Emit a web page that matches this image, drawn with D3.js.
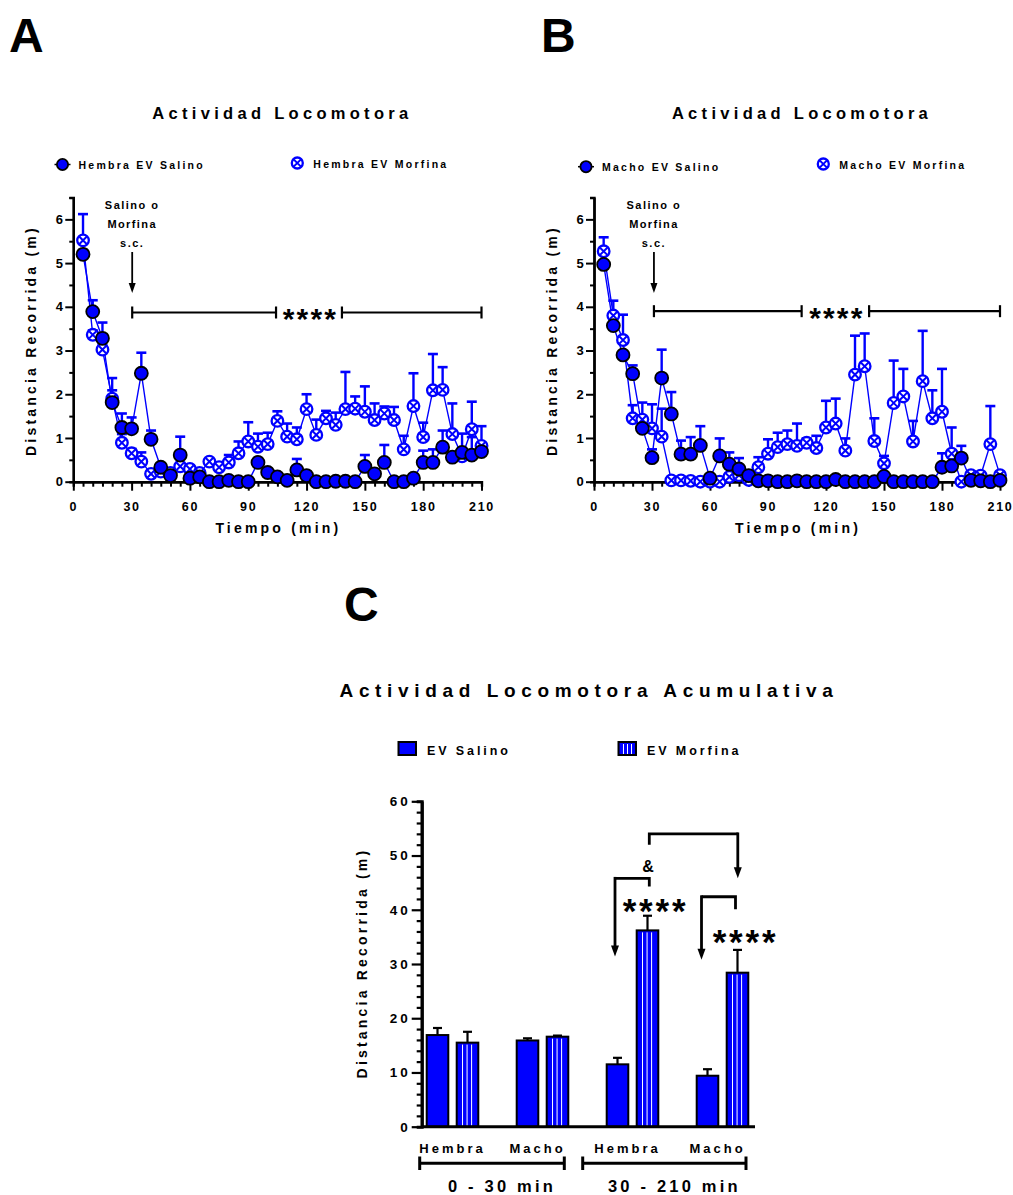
<!DOCTYPE html>
<html>
<head>
<meta charset="utf-8">
<script src="https://cdn.jsdelivr.net/npm/d3@7"></script>
<style>
  body { margin: 0; background: #fff; }
  text { font-family: "Liberation Sans", Arial, sans-serif; font-weight: bold; fill: #000; }
</style>
</head>
<body>
<svg id="chart" width="1013" height="1195"></svg>
<script>
var azul = "#0000ff"

// --- paneles A y B: actividad cada 5 min ---
var tiempo = [5, 10, 15, 20, 25, 30, 35, 40, 45, 50, 55, 60, 65, 70, 75, 80, 85, 90, 95, 100, 105,
              110, 115, 120, 125, 130, 135, 140, 145, 150, 155, 160, 165, 170, 175, 180, 185, 190, 195, 200, 205, 210]
var tiempoTicks = [0, 30, 60, 90, 120, 150, 180, 210]
var distTicks = [0, 1, 2, 3, 4, 5, 6]

var hembraSalino = [5.2, 3.89, 3.28, 1.81, 1.24, 1.21, 2.48, 0.97, 0.33, 0.14, 0.61, 0.08, 0.11, 0, 0, 0.03, 0, 0, 0.44, 0.21, 0.11,
                    0.03, 0.27, 0.14, 0, 0, 0.01, 0.01, 0, 0.35, 0.18, 0.44, 0, 0, 0.08, 0.44, 0.44, 0.79, 0.56, 0.67, 0.61, 0.69]
var hembraSalinoEE = [0.1, 0.26, 0.36, 0.28, 0.32, 0.26, 0.47, 0.2, 0.05, 0.05, 0.42, 0.05, 0.05, 0, 0, 0, 0, 0, 0.1, 0.05, 0.05,
                      0.03, 0.25, 0.05, 0, 0, 0, 0, 0, 0.26, 0.05, 0.4, 0, 0, 0.05, 0.27, 0.3, 0.38, 0.1, 0.1, 0.41, 0.1]
var hembraMorfina = [5.52, 3.36, 3.02, 1.9, 0.89, 0.65, 0.46, 0.18, 0.23, 0.2, 0.35, 0.29, 0.2, 0.46, 0.33, 0.44, 0.65, 0.92, 0.8, 0.86, 1.39,
                     1.03, 0.97, 1.66, 1.07, 1.45, 1.3, 1.66, 1.67, 1.6, 1.41, 1.56, 1.41, 0.74, 1.73, 1.02, 2.09, 2.1, 1.09, 0.58, 1.2, 0.82]
var hembraMorfinaEE = [0.6, 0.1, 0.1, 0.47, 0.2, 0.1, 0.21, 0.05, 0.05, 0.05, 0.05, 0.05, 0.05, 0.05, 0.05, 0.17, 0.27, 0.44, 0.3, 0.26, 0.22,
                       0.3, 0.27, 0.34, 0.35, 0.17, 0.28, 0.85, 0.28, 0.58, 0.38, 0.16, 0.3, 0.31, 0.75, 0.33, 0.83, 0.52, 0.7, 0.52, 0.63, 0.45]

var machoSalino = [4.97, 3.57, 2.9, 2.47, 1.22, 0.55, 2.37, 1.55, 0.63, 0.63, 0.83, 0.08, 0.59, 0.4, 0.29, 0.14, 0.02, 0.02, 0, 0, 0.02,
                   0, 0, 0, 0.05, 0, 0, 0, 0, 0.12, 0, 0, 0, 0, 0, 0.33, 0.36, 0.54, 0.03, 0.02, 0, 0.03]
var machoSalinoEE = [0.05, 0.05, 0.05, 0.19, 0.05, 0.19, 0.65, 0.5, 0.31, 0.39, 0.44, 0.05, 0.4, 0.27, 0.25, 0.05, 0, 0, 0, 0, 0,
                     0, 0, 0, 0, 0, 0, 0, 0, 0.05, 0, 0, 0, 0, 0, 0.32, 0.05, 0.28, 0, 0, 0, 0]
var machoMorfina = [5.27, 3.8, 3.24, 1.45, 1.42, 1.22, 1.03, 0.03, 0.03, 0.02, 0, 0, 0, 0.11, 0.15, 0.04, 0.33, 0.64, 0.79, 0.86, 0.82,
                    0.89, 0.77, 1.24, 1.33, 0.71, 2.45, 2.64, 0.93, 0.42, 1.8, 1.95, 0.92, 2.3, 1.45, 1.6, 0.64, 0, 0.15, 0.14, 0.86, 0.15]
var machoMorfinaEE = [0.32, 0.34, 0.58, 0.3, 0.39, 0.55, 0.64, 0, 0, 0, 0, 0, 0, 0.05, 0.05, 0.05, 0.23, 0.33, 0.33, 0.31, 0.51,
                      0.1, 0.28, 0.61, 0.57, 0.28, 0.89, 0.75, 0.52, 0.17, 0.97, 0.63, 0.47, 1.15, 0.64, 0.98, 0.6, 0, 0, 0, 0.87, 0]

// --- panel C: acumulado ---
var grupos = ["Hembra", "Macho", "Hembra", "Macho"]
var periodos = ["0 - 30 min", "30 - 210 min"]
var salinoAcum = [16.9, 15.9, 11.5, 9.4]
var salinoAcumEE = [1.3, 0.4, 1.2, 1.2]
var morfinaAcum = [15.5, 16.6, 36.2, 28.4]
var morfinaAcumEE = [2.0, 0.2, 2.7, 4.2]
var acumTicks = [0, 10, 20, 30, 40, 50, 60]

var svg = d3.select("#chart")

function texto(x, y, str, size, ls, anchor) {
    return svg.append("text")
        .attr("x", x).attr("y", y)
        .attr("font-size", size)
        .attr("letter-spacing", ls)
        .attr("text-anchor", anchor || "start")
        .text(str)
}

function flecha(g, x, y1, y2, ancho, largo, grosor) {
    g.append("line")
        .attr("x1", x).attr("x2", x).attr("y1", y1).attr("y2", y2 - largo + 1)
        .attr("stroke", "#000").attr("stroke-width", grosor)
    g.append("path")
        .attr("d", "M" + (x - ancho / 2) + "," + (y2 - largo) + "L" + (x + ancho / 2) + "," + (y2 - largo) + "L" + x + "," + y2 + "Z")
        .attr("fill", "#000")
}

function marcaMorfina(g, r) {
    g.append("circle").attr("r", r).attr("fill", "#fff").attr("stroke", azul).attr("stroke-width", 2.3)
    var k = r * 0.62
    g.append("path")
        .attr("d", "M" + (-k) + "," + (-k) + "L" + k + "," + k + "M" + (-k) + "," + k + "L" + k + "," + (-k))
        .attr("stroke", azul).attr("stroke-width", 2)
}

function marcaSalino(g, r) {
    g.append("circle").attr("r", r).attr("fill", azul).attr("stroke", "#000").attr("stroke-width", 1.8)
}

function panelTiempo(op) {
    var x = d3.scaleLinear().domain([0, 210]).range([op.x0, op.x1])
    var y = d3.scaleLinear().domain([0, 6.5]).range([481.7, 197.5])
    var g = svg.append("g")

    // ejes
    var ejeY = g.append("g").attr("transform", "translate(" + op.x0 + ",0)")
        .call(d3.axisLeft(y).tickValues(distTicks).tickSize(8).tickSizeOuter(0).tickPadding(2).tickFormat(d3.format("d")))
    g.append("g").attr("transform", "translate(" + op.x0 + ",0)")
        .call(d3.axisLeft(y).tickValues(distTicks.map(function(d) { return d + 0.5 })).tickSize(4).tickFormat(""))
    var ejeX = g.append("g").attr("transform", "translate(0,481.7)")
        .call(d3.axisBottom(x).tickValues(tiempoTicks).tickSize(9).tickSizeOuter(0).tickPadding(11))
    g.append("g").attr("transform", "translate(0,481.7)")
        .call(d3.axisBottom(x).tickValues(tiempo.filter(function(t) { return t % 30 != 0 })).tickSize(5).tickFormat(""))
    g.selectAll(".domain").attr("stroke-width", 2.4)
    g.selectAll(".tick line").attr("stroke-width", 2)
    g.selectAll(".tick text")
        .attr("font-size", 12.5).attr("letter-spacing", 1.7)
        .attr("font-family", "Liberation Sans, Arial, sans-serif").attr("font-weight", "bold")
    ejeY.selectAll(".tick text").attr("font-size", 13).attr("dx", "1.5")

    // líneas
    var linea = d3.line().x(function(d, i) { return x(tiempo[i]) }).y(function(d) { return y(d) })
    var series = [
        { v: op.morfina, ee: op.morfinaEE, tipo: "morfina" },
        { v: op.salino, ee: op.salinoEE, tipo: "salino" }
    ]
    series.forEach(function(s) {
        g.append("path").datum(s.v).attr("d", linea)
            .attr("fill", "none").attr("stroke", azul).attr("stroke-width", 1.4)
    })
    // barras de error (sólo hacia arriba)
    series.forEach(function(s) {
        var eb = g.append("g")
        s.v.forEach(function(v, i) {
            if (!s.ee[i]) return
            var cx = x(tiempo[i]), top = y(v + s.ee[i])
            eb.append("line").attr("x1", cx).attr("x2", cx).attr("y1", y(v)).attr("y2", top)
                .attr("stroke", azul).attr("stroke-width", 2.4)
            eb.append("line").attr("x1", cx - 5).attr("x2", cx + 5).attr("y1", top).attr("y2", top)
                .attr("stroke", azul).attr("stroke-width", 2.6)
        })
    })
    // marcadores
    series.forEach(function(s) {
        s.v.forEach(function(v, i) {
            var m = g.append("g").attr("transform", "translate(" + x(tiempo[i]) + "," + y(v) + ")")
            if (s.tipo == "morfina") marcaMorfina(m, 5.8)
            else marcaSalino(m, 6.5)
        })
    })

    // leyenda
    var l1 = g.append("g").attr("transform", "translate(" + op.leg1[0] + "," + op.leg1[1] + ")")
    l1.append("line").attr("x1", -8).attr("x2", 8).attr("stroke", "#000").attr("stroke-width", 1.5)
    marcaSalino(l1, 5.6)
    texto(op.leg1[0] + 16, op.leg1[1] + 4.5, op.nombres[0], 10.5, 2.25)
    var l2 = g.append("g").attr("transform", "translate(" + op.leg2[0] + "," + op.leg2[1] + ")")
    marcaMorfina(l2, 5.5)
    texto(op.leg2[0] + 16, op.leg2[1] + 4.5, op.nombres[1], 10.5, 2.25)

    // títulos de ejes
    texto((op.x0 + op.x1) / 2 + 5, 119, "Actividad Locomotora", 16.5, 4.3, "middle")
    texto((op.x0 + op.x1) / 2 + 1, 533, "Tiempo (min)", 14, 3.2, "middle")
    svg.append("text")
        .attr("transform", "translate(" + (op.x0 - 37) + "," + (y(3.25) + 1) + ") rotate(-90)")
        .attr("font-size", 14).attr("letter-spacing", 3.2).attr("text-anchor", "middle")
        .text("Distancia Recorrida (m)")

    // inyección
    var xi = x(op.tIny)
    texto(xi, 209, "Salino o", 11, 1.5, "middle")
    texto(xi, 228, "Morfina", 11, 1.4, "middle")
    texto(xi, 247, "s.c.", 11, 1.5, "middle")
    flecha(g, xi, 252, 293, 7, 10, 1.8)

    // corchete de significación
    var yb = y(op.yCorchete)
    var tramos = [[op.tIny, op.tCorte[0]], [op.tCorte[1], 210]]
    tramos.forEach(function(t) {
        g.append("line").attr("x1", x(t[0])).attr("x2", x(t[1])).attr("y1", yb).attr("y2", yb)
            .attr("stroke", "#000").attr("stroke-width", 2.2)
        t.forEach(function(tt) {
            g.append("line").attr("x1", x(tt)).attr("x2", x(tt)).attr("y1", yb - 6).attr("y2", yb + 6)
                .attr("stroke", "#000").attr("stroke-width", 2.2)
        })
    })
    texto(x((op.tCorte[0] + op.tCorte[1]) / 2) + 1.5, yb + 17, "****", 30, 2.2, "middle")
}

panelTiempo({
    x0: 73.3, x1: 481.5, tIny: 30.3, yCorchete: 3.87, tCorte: [104.3, 138.2],
    salino: hembraSalino, salinoEE: hembraSalinoEE, morfina: hembraMorfina, morfinaEE: hembraMorfinaEE,
    nombres: ["Hembra EV Salino", "Hembra EV Morfina"], leg1: [62.5, 164.5], leg2: [297.3, 163]
})
panelTiempo({
    x0: 594, x1: 1000, tIny: 31, yCorchete: 3.9, tCorte: [107.4, 142.3],
    salino: machoSalino, salinoEE: machoSalinoEE, morfina: machoMorfina, morfinaEE: machoMorfinaEE,
    nombres: ["Macho EV Salino", "Macho EV Morfina"], leg1: [586, 166.7], leg2: [823.3, 164]
})

// letras de panel
texto(9, 52, "A", 48, 0)
texto(541, 52, "B", 48, 0)
texto(344, 621, "C", 48, 0)

// --- panel C ---
var gC = svg.append("g")
var yC = d3.scaleLinear().domain([0, 60]).range([1126.7, 801.3])
var xG = d3.scaleBand().domain(d3.range(grupos.length)).range([421.7, 753.3]).paddingInner(0.4267).paddingOuter(0.0556)
var xB = d3.scaleBand().domain(["salino", "morfina"]).range([0, xG.bandwidth()]).paddingInner(0.28)

gC.append("g").attr("transform", "translate(421.7,0)")
    .call(d3.axisLeft(yC).tickValues(d3.range(0, 61, 2).filter(function(v) { return v % 10 != 0 })).tickSize(5).tickFormat(""))
var ejeC = gC.append("g").attr("transform", "translate(421.7,0)")
    .call(d3.axisLeft(yC).tickValues(acumTicks).tickSize(10).tickSizeOuter(0).tickPadding(1))
gC.selectAll(".domain").attr("stroke-width", 3)
gC.selectAll(".tick line").attr("stroke-width", 2.2)
ejeC.selectAll(".tick text").attr("font-size", 13.5).attr("letter-spacing", 3)
    .attr("font-family", "Liberation Sans, Arial, sans-serif").attr("font-weight", "bold")

var barras = []
grupos.forEach(function(gr, i) {
    barras.push({ g: i, tipo: "salino", v: salinoAcum[i], ee: salinoAcumEE[i] })
    barras.push({ g: i, tipo: "morfina", v: morfinaAcum[i], ee: morfinaAcumEE[i] })
})
var bw = xB.bandwidth()
barras.forEach(function(b) {
    var bx = xG(b.g) + xB(b.tipo)
    var top = yC(b.v)
    // error
    gC.append("line").attr("x1", bx + bw / 2).attr("x2", bx + bw / 2).attr("y1", top).attr("y2", yC(b.v + b.ee))
        .attr("stroke", "#000").attr("stroke-width", 2.2)
    gC.append("line").attr("x1", bx + bw / 2 - 4.5).attr("x2", bx + bw / 2 + 4.5).attr("y1", yC(b.v + b.ee)).attr("y2", yC(b.v + b.ee))
        .attr("stroke", "#000").attr("stroke-width", 2.2)
    gC.append("rect").attr("x", bx).attr("y", top).attr("width", bw).attr("height", yC(0) - top)
        .attr("fill", azul).attr("stroke", "#000").attr("stroke-width", 2)
    if (b.tipo == "morfina") {
        [0.27, 0.48, 0.69].forEach(function(f) {
            gC.append("line").attr("x1", bx + bw * f).attr("x2", bx + bw * f).attr("y1", top + 2).attr("y2", yC(0) - 1)
                .attr("stroke", "#fff").attr("stroke-width", 1)
        })
    }
})
// eje x
gC.append("line").attr("x1", 421.7).attr("x2", 755).attr("y1", yC(0)).attr("y2", yC(0))
    .attr("stroke", "#000").attr("stroke-width", 3)

grupos.forEach(function(gr, i) {
    texto(xG(i) + xG.bandwidth() / 2 - 5 + (i == 0 ? 5 : 0), 1152.5, gr, 13, 3, "middle")
})
periodos.forEach(function(p, i) {
    var a = xG(2 * i) - (i == 0 ? 7 : 24)
    var b = xG(2 * i + 1) + xG.bandwidth() - (i == 0 ? 4 : 2.3)
    gC.append("line").attr("x1", a).attr("x2", b).attr("y1", 1163.3).attr("y2", 1163.3)
        .attr("stroke", "#000").attr("stroke-width", 3)
    ;[a, b].forEach(function(xx) {
        gC.append("line").attr("x1", xx).attr("x2", xx).attr("y1", 1156.5).attr("y2", 1170)
            .attr("stroke", "#000").attr("stroke-width", 3)
    })
    texto((a + b) / 2 + 10, 1191.5, p, 16.5, 3.2, "middle")
})

svg.append("text")
    .attr("transform", "translate(" + (421.7 - 55) + "," + (yC(30) - 1) + ") rotate(-90)")
    .attr("font-size", 14).attr("letter-spacing", 3.2).attr("text-anchor", "middle")
    .text("Distancia Recorrida (m)")
texto(589, 697, "Actividad Locomotora Acumulativa", 19, 5.65, "middle")

// leyenda C
gC.append("rect").attr("x", 398.5).attr("y", 742).attr("width", 17.5).attr("height", 13)
    .attr("fill", azul).attr("stroke", "#000").attr("stroke-width", 2)
texto(427, 754.5, "EV Salino", 12.5, 2.9)
gC.append("rect").attr("x", 618.5).attr("y", 742).attr("width", 17.5).attr("height", 13)
    .attr("fill", azul).attr("stroke", "#000").attr("stroke-width", 2)
;[0.37, 0.6, 0.83].forEach(function(f) {
    gC.append("line").attr("x1", 618.5 + 17.5 * f - 1.5).attr("x2", 618.5 + 17.5 * f - 1.5).attr("y1", 744).attr("y2", 754)
        .attr("stroke", "#fff").attr("stroke-width", 1)
})
texto(647, 754.5, "EV Morfina", 12.5, 2.9)

// comparaciones
var cS = function(i) { return xG(i) + xB("salino") + bw / 2 }
var cM = function(i) { return xG(i) + xB("morfina") + bw / 2 }
var gA = gC.append("g")
function corchete(xl, xr, yTop, yDer, yFlecha) {
    gA.append("path")
        .attr("d", "M" + xr + "," + yC(yDer) + "V" + yC(yTop) + "H" + xl)
        .attr("fill", "none").attr("stroke", "#000").attr("stroke-width", 2.8)
    flecha(gA, xl, yC(yTop) - 1.4, yC(yFlecha), 8, 11, 2.8)
}
corchete(cS(2) - 2.5, cM(2) + 1.8, 45.8, 44.3, 31.4)
corchete(cS(3) - 6, cM(3) - 2, 42.4, 40.1, 30.8)
// morfina hembra vs macho
gA.append("path")
    .attr("d", "M" + (cM(2) + 1.8) + "," + yC(52) + "V" + yC(54) + "H" + (cM(3) + 0.3))
    .attr("fill", "none").attr("stroke", "#000").attr("stroke-width", 2.8)
flecha(gA, cM(3) + 0.3, yC(54) - 1.4, yC(45.8), 8, 11, 2.8)

texto(cM(2) + 0.5, yC(47.9) + 5.5, "&", 16, 0, "middle")
texto(cM(2) + 8, 923, "****", 35, 2.8, "middle")
texto(cM(3) + 8, 954, "****", 35, 2.8, "middle")
</script>
</body>
</html>
